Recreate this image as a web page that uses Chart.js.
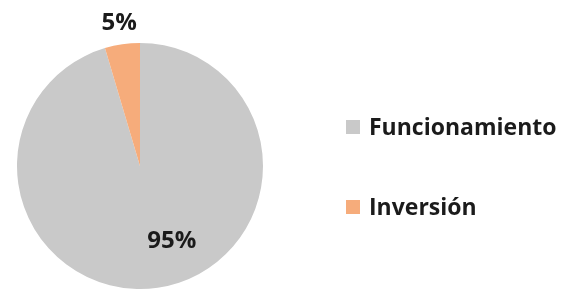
<!DOCTYPE html>
<html>
<head>
<meta charset="utf-8">
<script src="https://cdn.jsdelivr.net/npm/chart.js@4/dist/chart.umd.min.js"></script>
<style>
  html, body { margin: 0; padding: 0; background: #ffffff; }
  #wrap { position: relative; width: 569px; height: 293px; overflow: hidden; }
  #c { position: absolute; left: 0; top: 0; }
  .leg { position: absolute; left: 346px; font-family: "Open Sans", sans-serif; font-weight: 700;
         font-size: 23px; line-height: 24px; color: #1b1b1b; white-space: nowrap; }
  .leg .box { position: absolute; left: 0; width: 14px; height: 14px; }
  .leg .txt { position: absolute; left: 23px; top: 0; }
</style>
</head>
<body>
<div id="wrap">
  <canvas id="c" width="569" height="293"></canvas>
</div>
<script>
const categories = ["Funcionamiento", "Inversión"];
const values = [95.4, 4.6];
const pctLabels = ["95%", "5%"];
const colors = ["#C9C9C9", "#F6AC7B"];

// label placement per slice: angle (deg, canvas coords) and radius factor
const labelPlacement = [
  { angle: 67, r: 0.66 },
  { angle: null, r: 1.17 }
];

const sliceLabels = {
  id: 'sliceLabels',
  afterDatasetsDraw(chart) {
    const ctx = chart.ctx;
    const meta = chart.getDatasetMeta(0);
    ctx.save();
    ctx.font = 'bold 24px "Open Sans", sans-serif';
    ctx.fillStyle = '#1b1b1b';
    ctx.textAlign = 'center';
    ctx.textBaseline = 'middle';
    meta.data.forEach((arc, i) => {
      const p = arc.getProps(['x', 'y', 'startAngle', 'endAngle', 'outerRadius'], true);
      const pl = labelPlacement[i];
      const a = pl.angle === null ? (p.startAngle + p.endAngle) / 2 : pl.angle * Math.PI / 180;
      const x = p.x + Math.cos(a) * p.outerRadius * pl.r;
      const y = p.y + Math.sin(a) * p.outerRadius * pl.r;
      ctx.fillText(pctLabels[i], x, y);
    });
    ctx.restore();
  }
};

new Chart(document.getElementById('c'), {
  type: 'pie',
  data: {
    labels: categories,
    datasets: [{
      data: values,
      backgroundColor: colors,
      borderWidth: 0,
      hoverOffset: 0
    }]
  },
  options: {
    responsive: false,
    animation: false,
    layout: { padding: { left: 17, right: 306, top: 43, bottom: 4 } },
    plugins: {
      legend: { display: false },
      tooltip: { enabled: false }
    }
  },
  plugins: [sliceLabels]
});

// HTML legend built from the data arrays
const legendTops = [114, 194];
const wrap = document.getElementById('wrap');
categories.forEach((name, i) => {
  const d = document.createElement('div');
  d.className = 'leg';
  d.style.top = legendTops[i] + 'px';
  d.innerHTML = '<span class="box" style="top:6px;background:' + colors[i] + '"></span><span class="txt"></span>';
  d.querySelector('.txt').textContent = name;
  wrap.appendChild(d);
});
</script>
</body>
</html>
